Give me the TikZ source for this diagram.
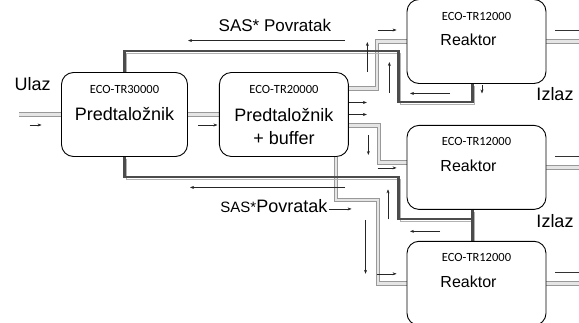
\documentclass[tikz,border=0pt]{standalone}
\usepackage{fontspec}
\setmainfont{Liberation Sans}
\newfontfamily\ecofont{Carlito}
\usetikzlibrary{positioning,arrows.meta,backgrounds}

\begin{document}
\begin{tikzpicture}
[x=1pt,y=1pt,
 box/.style={draw,fill=white,rounded corners=12pt,line width=0.9pt,minimum height=84pt,inner sep=0pt},
 eco/.style={font=\ecofont\fontsize{12.5}{14}\selectfont,inner sep=1pt},
 big/.style={font=\fontsize{18}{23}\selectfont,inner sep=1pt},
 feed/.style={draw=gray!80,line width=1pt,double=gray!20,double distance=2.4pt},
 back/.style={draw=black!70,line width=2.4pt,preaction={draw=gray!60,line width=1pt,transform canvas={shift={(2.2pt,-2.2pt)}}}},
 flow/.style={black!85,line width=0.5pt,-{Stealth[length=4pt,width=3pt]}}]
\useasboundingbox (0,0) rectangle (579,322);
% tanks
\node[box,minimum width=126pt](pre1) at (124.5,207.5){};
\node[box,minimum width=129pt,right=31pt of pre1](pre2){};
\node[box,minimum width=139pt](reak1) at (476.5,280.5){};
\node[box,minimum width=139pt,below=41pt of reak1](reak2){};
\node[box,minimum width=139pt,below=31pt of reak2](reak3){};
\node[eco](eco1) at ([yshift=-17pt]pre1.north){ECO-TR30000};
\node[big](txt1) at (pre1){Predtaložnik};
\node[eco](eco2) at ([yshift=-17pt]pre2.north){ECO-TR20000};
\node[big,align=center](txt2) at ([yshift=-12pt]pre2.center){Predtaložnik\\+ buffer};
\foreach \r in {1,2,3}{
  \node[eco](ecor\r) at ([yshift=-17pt]reak\r.north){ECO-TR12000};
  \node[font=\fontsize{16}{19}\selectfont,inner sep=1pt](txtr\r) at ([shift={(-8pt,-41pt)}]reak\r.north){Reaktor};
}
% labels
\node[big](ulaz) at ([shift={(-28.5pt,30pt)}]pre1.west){Ulaz};
\node[big](izlaz1) at ([shift={(78.5pt,-10pt)}]reak1.south){Izlaz};
\node[big](izlaz2) at ([shift={(78.5pt,-11.5pt)}]reak2.south){Izlaz};
\node[font=\fontsize{17}{20}\selectfont,inner sep=1pt](sas1) at ([shift={(-9pt,46.5pt)}]pre2.north){SAS* Povratak};
\node[big](sas2) at ([shift={(-10pt,-49pt)}]pre2.south){{\fontsize{15}{18}\selectfont SAS*}Povratak};
% pipes
\begin{scope}[on background layer]
\coordinate (ulazpt) at ([xshift=-42pt]pre1.west);
\draw[feed] (ulazpt) -- (pre1.west);
\draw[feed] (pre1.east) -- (pre2.west);
\draw[feed] ([yshift=26pt]pre2.east) -- ++(28pt,0) |- (reak1.west);
\draw[feed] ([yshift=-11pt]pre2.east) -- ++(30pt,0) |- ([yshift=5pt]reak2.west);
\draw[feed] ([xshift=52pt]pre2.south) |- ++(42pt,-43pt) |- (reak3.west);
\foreach \r in {1,2,3}{
  \draw[feed] (reak\r.east) -- ++(34pt,0);
  \draw[black!80,line width=0.6pt] ([shift={(9pt,11pt)}]reak\r.east) -- ++(25pt,0);
}
\draw[back] ([xshift=-4pt]reak1.south) -- ++(0,-18pt) -| ++(-74pt,51pt) -| (pre1.north);
\draw[back] (pre1.south) |- ++(274pt,-20pt) |- ([shift={(-4pt,-9pt)}]reak2.south);
\draw[back] ([xshift=-4pt]reak2.south) -- ([xshift=-4pt]reak3.north);
\end{scope}
% flow arrows
\draw[flow] ([shift={(-31.5pt,-10.5pt)}]pre1.west) -- ++(12pt,0);
\draw[flow] ([shift={(10.5pt,-10.5pt)}]pre1.east) -- ++(19pt,0);
\draw[flow] ([yshift=12pt]pre2.east) -- ++(18pt,0);
\draw[flow] (pre2.east) -- ++(18pt,0);
\draw[flow] ([shift={(18.5pt,42.5pt)}]pre2.east) -- ++(0,30pt);
\draw[flow] ([shift={(40.5pt,21.5pt)}]pre2.east) -- ++(0,31pt);
\draw[flow] ([shift={(19.5pt,-20.5pt)}]pre2.east) -- ++(0,-20pt);
\draw[flow] ([shift={(-29pt,11.5pt)}]reak1.west) -- ++(19pt,0);
\draw[flow] ([shift={(-26.5pt,-9.5pt)}]reak1.south) -- ++(-40pt,0);
\draw[flow] ([shift={(5.5pt,-1.5pt)}]reak1.south) -- ++(0,-8pt);
\draw[flow] ([shift={(-29pt,-0.5pt)}]reak2.west) -- ++(19pt,0);
\draw[flow] ([shift={(-88.5pt,-9.5pt)}]reak2.south) -- ++(0,30pt);
\draw[flow] ([shift={(-36.5pt,-21.5pt)}]reak2.south) -- ++(-30pt,0);
\draw[flow] ([shift={(-41pt,63.5pt)}]reak3.west) -- ++(0,-54pt);
\draw[flow] ([shift={(-30pt,9.5pt)}]reak3.west) -- ++(20pt,0);
\draw[flow] ([shift={(220.5pt,31.5pt)}]pre1.north) -- ++(-157pt,0);
\draw[flow] ([shift={(220.5pt,-30.5pt)}]pre1.south) -- ++(-155pt,0);
\draw[flow] ([yshift=-3pt]sas2.east) -- ++(23pt,0);
\end{tikzpicture}
\end{document}
